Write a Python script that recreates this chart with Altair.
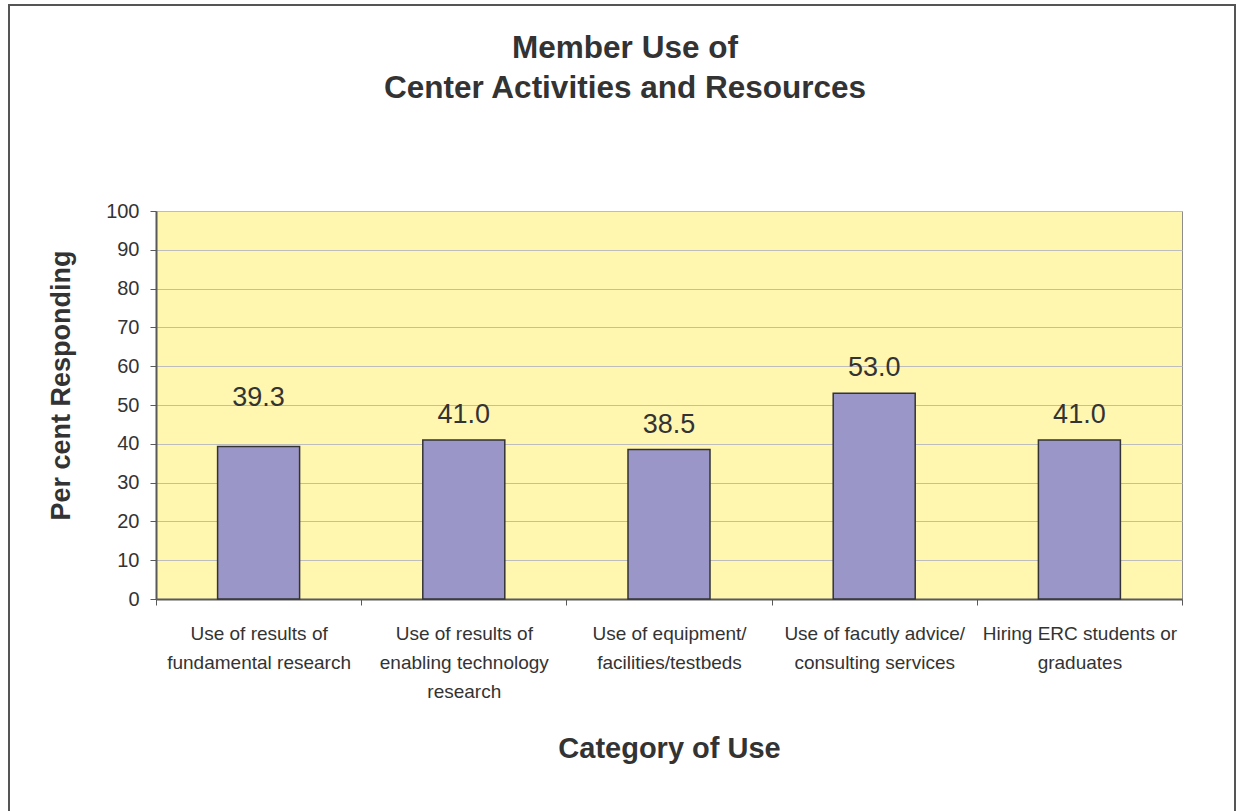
import altair as alt
import pandas as pd

categories = [
    "Use of results of|fundamental research",
    "Use of results of|enabling technology|research",
    "Use of equipment/|facilities/testbeds",
    "Use of facutly advice/|consulting services",
    "Hiring ERC students or|graduates",
]
values = [39.3, 41.0, 38.5, 53.0, 41.0]
y_ticks = [0, 10, 20, 30, 40, 50, 60, 70, 80, 90, 100]

df = pd.DataFrame({"category": categories, "value": values})
frame_df = pd.DataFrame({"k": [0]})

FONT = "Liberation Sans"
TXT = "#333333"

x_enc = alt.X(
    "category:N",
    sort=categories,
    title="Category of Use",
    scale=alt.Scale(paddingInner=0, paddingOuter=0),
    axis=alt.Axis(
        labelExpr="split(datum.label, '|')",
        labelAngle=0,
        labelAlign="center",
        labelBaseline="alphabetic",
        labelFont=FONT,
        labelFontSize=19,
        labelColor=TXT,
        labelLineHeight=29,
        labelPadding=34,
        labelLimit=400,
        tickBand="extent",
        tickSize=6,
        tickColor="#595959",
        domainColor="#595959",
        domainWidth=2,
        grid=False,
        titleFont=FONT,
        titleFontSize=29,
        titleFontWeight="bold",
        titleColor=TXT,
        titleBaseline="alphabetic",
        titleAlign="center",
        titleX=513,
        titleY=158,
    ),
)

y_enc = alt.Y(
    "value:Q",
    title="Per cent Responding",
    scale=alt.Scale(domain=[0, 100], nice=False),
    axis=alt.Axis(
        values=y_ticks,
        labelOverlap=False,
        labelFont=FONT,
        labelFontSize=20,
        labelColor=TXT,
        labelPadding=11,
        tickSize=6,
        tickColor="#595959",
        domainColor="#595959",
        domainWidth=2,
        grid=True,
        gridColor="#BDBDBD",
        gridWidth=1,
        titleFont=FONT,
        titleFontSize=27,
        titleFontWeight="bold",
        titleColor=TXT,
        titleBaseline="alphabetic",
        titleAlign="center",
        titleAngle=270,
        titleX=-87,
        titleY=174,
    ),
)

bars = alt.Chart(df).mark_bar(
    size=82, color="#9B96C8", stroke="#333333", strokeWidth=1.5
).encode(x=x_enc, y=y_enc)

text_style = dict(baseline="alphabetic", align="center", font=FONT, fontSize=27, color=TXT)

labels = alt.Chart(df).transform_filter(
    alt.datum.category != categories[0]
).mark_text(dy=-17, **text_style).encode(
    x=x_enc,
    y=y_enc,
    text=alt.Text("value:Q", format=".1f"),
)

# the first label sits higher in the source chart
label_first = alt.Chart(df).transform_filter(
    alt.datum.category == categories[0]
).mark_text(dy=-41, **text_style).encode(
    x=x_enc,
    y=y_enc,
    text=alt.Text("value:Q", format=".1f"),
)

frame = alt.Chart(frame_df).mark_rect(
    fillOpacity=0, stroke="#555555", strokeWidth=2
).encode(
    x=alt.value(-147), x2=alt.value(1079), y=alt.value(-206), y2=alt.value(640)
)

chart = alt.layer(frame, bars, labels, label_first).properties(
    width=1026,
    height=388,
    title=alt.Title(
        ["Member Use of", "Center Activities and Resources"],
        font=FONT,
        fontSize=31.5,
        fontWeight="bold",
        color=TXT,
        anchor="middle",
        frame="group",
        dx=-44,
        dy=100,
        offset=0,
        lineHeight=40,
    ),
    autosize=alt.AutoSizeParams(type="none"),
    padding={"left": 156, "top": 211, "right": 54, "bottom": 212},
    background="white",
).configure_view(
    fill="#FFF6B0", stroke="#8C8C8C", strokeWidth=1
)

chart.save("out.html", embed_options={"renderer": "svg", "actions": False})
